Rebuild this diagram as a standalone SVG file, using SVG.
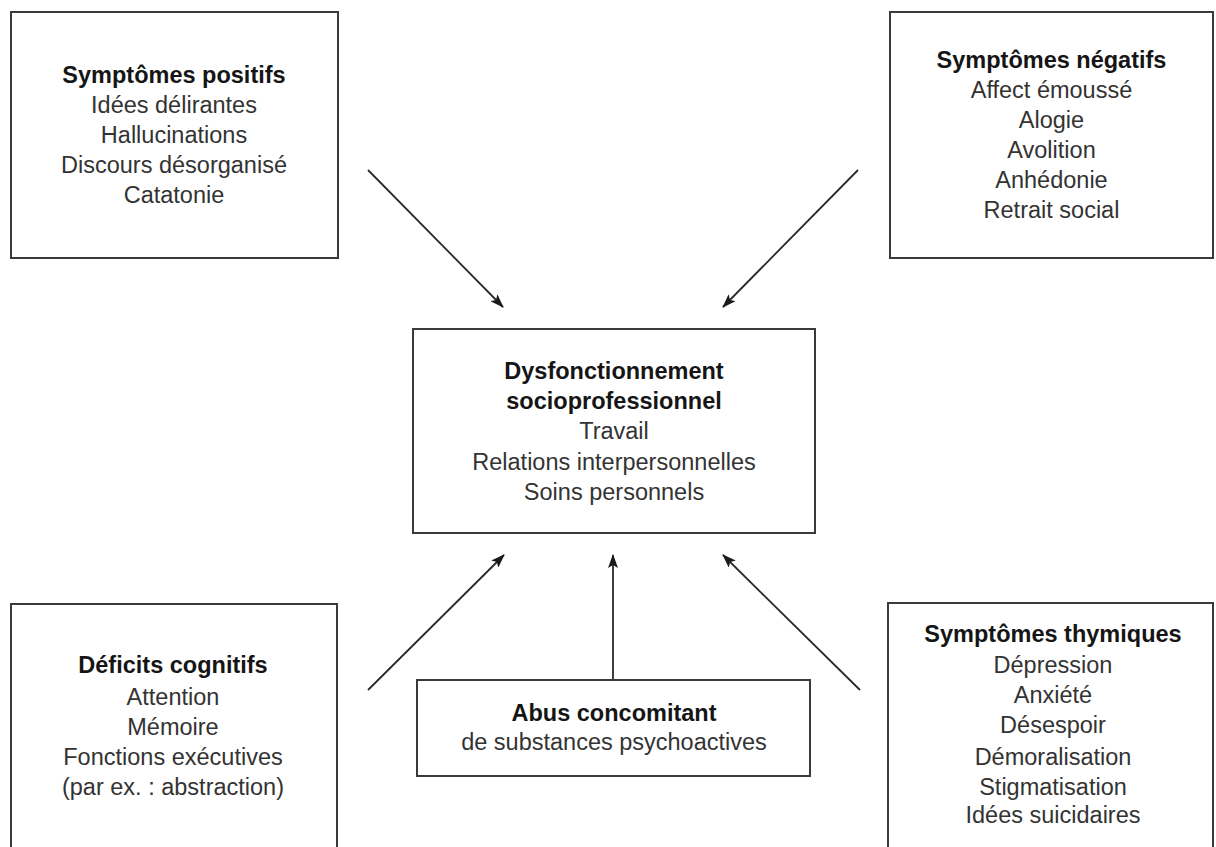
<svg xmlns="http://www.w3.org/2000/svg" width="1216" height="847" viewBox="0 0 1216 847">
<style>
.box{fill:#fff;stroke:#3a3a3a;stroke-width:2}
text{font-family:"Liberation Sans",Arial,Helvetica,sans-serif;font-size:23.5px;fill:#333;text-anchor:middle}
.h{font-weight:bold;fill:#151515}
.c{stroke:#2a2a2a;stroke-width:1.8;fill:none;marker-end:url(#ah)}
</style>
<defs>
<marker id="ah" viewBox="0 0 14 10" refX="13" refY="5" markerWidth="14" markerHeight="10" markerUnits="userSpaceOnUse" orient="auto">
<path d="M0,0 L14,5 L0,10 L3,5 Z" fill="#1a1a1a"/>
</marker>
</defs>
<rect width="1216" height="847" fill="#fff"/>
<g id="connectors">
<line class="c" x1="368" y1="170" x2="503" y2="307"/>
<line class="c" x1="858" y1="170" x2="723" y2="307"/>
<line class="c" x1="368" y1="690" x2="504" y2="555"/>
<line class="c" x1="613" y1="688" x2="613" y2="555"/>
<line class="c" x1="860" y1="690" x2="723" y2="555"/>
</g>
<g id="positifs">
<rect class="box" x="11" y="12" width="327" height="246"/>
<text class="h" x="174" y="83">Symptômes positifs</text>
<text x="174" y="113">Idées délirantes</text>
<text x="174" y="143">Hallucinations</text>
<text x="174" y="173">Discours désorganisé</text>
<text x="174" y="203">Catatonie</text>
</g>
<g id="negatifs">
<rect class="box" x="890" y="12" width="323" height="246"/>
<text class="h" x="1051.5" y="68">Symptômes négatifs</text>
<text x="1051.5" y="98">Affect émoussé</text>
<text x="1051.5" y="128">Alogie</text>
<text x="1051.5" y="158">Avolition</text>
<text x="1051.5" y="188">Anhédonie</text>
<text x="1051.5" y="218">Retrait social</text>
</g>
<g id="dysfonctionnement">
<rect class="box" x="413" y="329" width="402" height="204"/>
<text class="h" x="614" y="379">Dysfonctionnement</text>
<text class="h" x="614" y="409">socioprofessionnel</text>
<text x="614" y="439">Travail</text>
<text x="614" y="470">Relations interpersonnelles</text>
<text x="614" y="500">Soins personnels</text>
</g>
<g id="cognitifs">
<rect class="box" x="11" y="604" width="326" height="260"/>
<text class="h" x="173" y="673">Déficits cognitifs</text>
<text x="173" y="705">Attention</text>
<text x="173" y="735">Mémoire</text>
<text x="173" y="765">Fonctions exécutives</text>
<text x="173" y="795">(par ex. : abstraction)</text>
</g>
<g id="abus">
<rect class="box" x="417" y="680" width="393" height="96"/>
<text class="h" x="614" y="721">Abus concomitant</text>
<text x="614" y="750">de substances psychoactives</text>
</g>
<g id="thymiques">
<rect class="box" x="888" y="603" width="325" height="260"/>
<text class="h" x="1053" y="642">Symptômes thymiques</text>
<text x="1053" y="673">Dépression</text>
<text x="1053" y="703">Anxiété</text>
<text x="1053" y="733">Désespoir</text>
<text x="1053" y="765">Démoralisation</text>
<text x="1053" y="795">Stigmatisation</text>
<text x="1053" y="823">Idées suicidaires</text>
</g>
</svg>
